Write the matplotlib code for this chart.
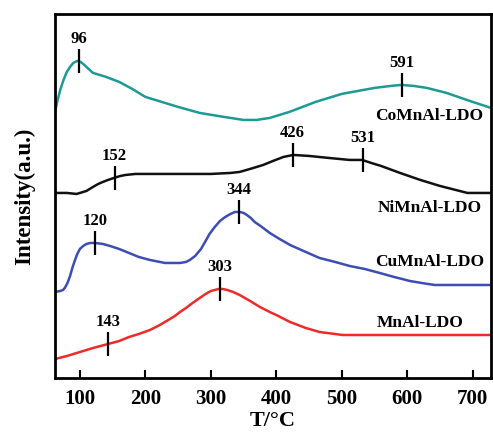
import matplotlib
matplotlib.use("Agg")
import matplotlib.pyplot as plt
import numpy as np

plt.rcParams['font.family'] = ['Liberation Serif', 'DejaVu Serif']
plt.rcParams['font.weight'] = 'bold'

# CoMnAl-LDO
co_t = [62, 66, 70, 75, 80, 85, 90, 96, 101, 105, 110, 115, 120, 125, 140, 160, 180, 200,
        225, 250, 283, 320, 350, 370, 390, 420, 460, 500, 550, 575, 591, 610, 630, 660,
        700, 728]
co_y = [266, 278, 288, 298, 306, 311, 315, 317, 316, 314, 311, 308, 305, 304, 301, 296,
        289, 281, 276, 271, 265, 261, 258, 258, 260, 266, 276, 284, 290, 292, 293, 292,
        290, 285, 276, 270]

# NiMnAl-LDO
ni_t = [62, 80, 95, 100, 105, 110, 115, 120, 128, 135, 143, 152, 162, 170, 185, 200, 250,
        300, 330, 344, 360, 380, 395, 411, 426, 450, 480, 512, 531, 545, 560, 589, 620,
        650, 680, 692, 728]
ni_y = [185, 185, 184, 185, 186, 187, 189, 191, 194, 196, 198, 200, 202, 203, 204, 204,
        204, 204, 205, 206, 209, 213, 217, 221, 223, 222, 220, 218, 218, 215, 212, 205,
        198, 192, 187, 185, 185]

# CuMnAl-LDO
cu_t = [62, 70, 74, 77, 81, 85, 88, 92, 96, 100, 105, 110, 116, 123, 135, 146, 160, 175,
        190, 207, 230, 245, 253, 262, 268, 276, 285, 292, 298, 306, 314, 322, 330, 337,
        344, 350, 355, 361, 367, 378, 390, 405, 421, 445, 466, 490, 512, 535, 558, 580,
        604, 622, 642, 728]
cu_y = [86, 87, 88, 90, 95, 102, 109, 117, 124, 129, 132, 134, 135, 135, 134, 132, 129,
        125, 121, 118, 115, 115, 115, 116, 118, 122, 129, 137, 144, 151, 157, 161, 164,
        166, 166, 165, 163, 160, 156, 151, 145, 139, 133, 126, 120, 116, 112, 109, 105,
        101, 97, 95, 93, 93]

# MnAl-LDO
mn_t = [62, 80, 100, 120, 143, 160, 175, 190, 207, 222, 235, 245, 253, 262, 270, 283,
        292, 300, 306, 312, 318, 325, 334, 344, 352, 360, 375, 390, 400, 421, 445, 466,
        478, 490, 501, 728]
mn_y = [19, 22, 26, 30, 34, 37, 41, 44, 48, 53, 58, 62, 66, 70, 74, 80, 84, 87, 88, 89,
        89, 88, 86, 83, 80, 77, 71, 66, 63, 56, 50, 46, 45, 44, 43, 43]

names = ['CoMnAl-LDO', 'NiMnAl-LDO', 'CuMnAl-LDO', 'MnAl-LDO']
colors = ['#1c9a93', '#111111', '#3c4db5', '#f02a2a']
peak_pos = [[98, 592], [153, 425, 532], [123, 343], [143, 314]]
peak_txt = [['96', '591'], ['152', '426', '531'], ['120', '344'], ['143', '303']]
name_pos = [(634, 262), (634, 170), (634, 116), (619, 55)]

fig = plt.figure(figsize=(4.93, 4.34), dpi=100)
ax = fig.add_axes([0.1116, 0.129, 0.8844, 0.839])

curves = [(co_t, co_y), (ni_t, ni_y), (cu_t, cu_y), (mn_t, mn_y)]
for (t, y), c, pp, pt in zip(curves, colors, peak_pos, peak_txt):
    ax.plot(t, y, color=c, lw=1.8)
    for p, s in zip(pp, pt):
        yc = np.interp(p, t, y)
        ax.vlines(p, yc - 12, yc + 12, color='black', lw=1.6)
        ax.text(p, yc + 14, s, ha='center', va='bottom', fontsize=12, fontweight='bold')

for nm, (px, py) in zip(names, name_pos):
    ax.text(px, py, nm, ha='center', va='center', fontsize=12.5, fontweight='bold')

ax.set_xlim(62, 728)
ax.set_ylim(0, 364)
ax.set_xticks([100, 200, 300, 400, 500, 600, 700])
ax.set_yticks([])
ax.tick_params(axis='x', direction='in', length=6, width=1.5, labelsize=15, pad=8)
for lab in ax.get_xticklabels():
    lab.set_fontweight('bold')
for sp in ax.spines.values():
    sp.set_linewidth(2)

ax.set_xlabel('T/°C', fontsize=16, fontweight='bold', labelpad=1)
ax.set_ylabel('Intensity(a.u.)', fontsize=16.5, fontweight='bold', labelpad=14)

fig.savefig('out.png', dpi=100)
